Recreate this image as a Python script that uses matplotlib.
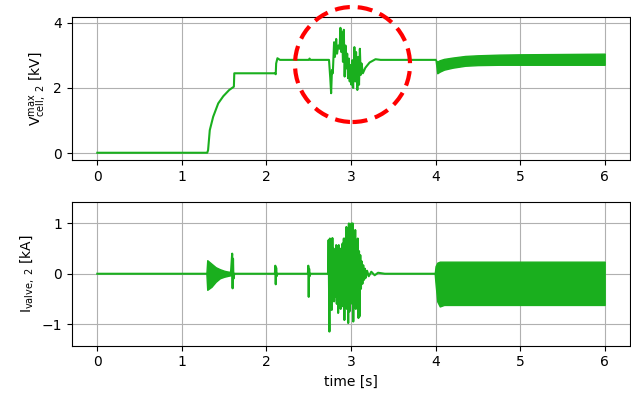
import matplotlib.pyplot as plt
from matplotlib.patches import Ellipse

plt.rcParams['mathtext.default'] = 'regular'

green = '#1aaf1e'

# upper panel: max cell voltage (kV)
v_t = [0.0, 1.30, 1.31, 1.33, 1.37, 1.43, 1.49, 1.56, 1.615, 1.62, 2.10, 2.11, 2.115,
       2.13, 2.16, 2.50, 2.51, 2.52, 2.74,
       2.755, 2.765, 2.775, 2.785, 2.80, 2.81, 2.825, 2.835, 2.85, 2.865, 2.875, 2.885,
       2.895, 2.905, 2.915, 2.925, 2.935, 2.945, 2.955, 2.965, 2.975, 2.985, 2.995,
       3.005, 3.015, 3.025, 3.04, 3.05, 3.06, 3.075, 3.085, 3.095, 3.105, 3.115, 3.125,
       3.14, 3.17, 3.22, 3.29, 3.35, 4.00]
v_max = [0.02, 0.02, 0.10, 0.71, 1.12, 1.53, 1.75, 1.94, 2.04, 2.45, 2.45, 2.42, 2.75,
         2.91, 2.86, 2.86, 2.90, 2.86, 2.86,
         2.30, 1.84, 2.55, 2.45, 3.40, 2.95, 3.50, 3.05, 3.30, 3.20, 3.84, 3.10,
         3.70, 2.80, 3.78, 2.35, 3.30, 2.60, 3.05, 2.30, 2.90, 2.20, 2.70,
         2.10, 2.85, 2.00, 3.25, 2.20, 3.10, 1.94, 2.95, 2.10, 3.20, 2.40, 2.75,
         2.45, 2.62, 2.78, 2.88, 2.86, 2.86]

# ripple band after 4 s (upper / lower envelope)
vb_t = [4.00, 4.02, 4.05, 4.10, 4.20, 4.35, 4.50, 4.75, 5.00, 6.00]
vb_hi = [2.86, 2.81, 2.85, 2.89, 2.93, 2.98, 3.00, 3.02, 3.03, 3.05]
vb_lo = [2.86, 2.45, 2.50, 2.56, 2.62, 2.68, 2.70, 2.71, 2.71, 2.71]

# lower panel: valve current (kA)
i_t = [0.0, 1.29, 1.58, 1.595, 1.60, 1.605, 1.61, 1.62, 2.10, 2.105, 2.11, 2.115, 2.12,
       2.13, 2.49, 2.495, 2.50, 2.505, 2.51, 2.52, 2.73,
       2.735, 2.745, 2.75, 2.758, 2.765, 2.772, 2.78, 2.787, 2.795, 2.80, 2.81, 2.818,
       2.825, 2.832, 2.84, 2.848, 2.855, 2.862, 2.87, 2.878, 2.885, 2.892, 2.90, 2.908,
       2.915, 2.922, 2.93, 2.937, 2.945, 2.952, 2.96, 2.967, 2.975, 2.982, 2.99, 2.997,
       3.005, 3.012, 3.02, 3.027, 3.035, 3.042, 3.05, 3.057, 3.065, 3.072, 3.08, 3.088,
       3.095, 3.10, 3.11, 3.118, 3.125, 3.135, 3.145, 3.155, 3.165, 3.175, 3.19, 3.21,
       3.24, 3.28, 3.32, 3.40, 4.00]
i_valve = [0.0, 0.0, 0.02, 0.40, -0.29, 0.30, -0.10, 0.0, 0.0, 0.16, -0.21, 0.12, -0.05,
           0.0, 0.0, 0.16, -0.46, 0.10, -0.05, 0.0, 0.0,
           0.67, -1.15, 0.70, -0.40, 0.55, -0.72, 0.71, -0.30, 0.50, -0.55, 0.45, -0.45,
           0.57, -0.60, 0.45, -0.78, 0.57, -0.40, 0.50, -0.70, 0.45, -0.50, 0.60, -0.65,
           0.70, -0.92, 0.70, -0.60, 0.93, -0.70, 0.80, -0.98, 1.00, -0.75, 0.90, -0.60,
           1.00, -0.50, 1.00, -0.95, 0.80, -0.55, 0.87, -0.70, 0.60, -0.45, 0.70, -0.88,
           0.45, -0.85, 0.37, -0.30, 0.25, -0.20, 0.17, -0.12, 0.10, -0.08, 0.06, -0.05,
           0.04, -0.03, 0.02, 0.0, 0.0]

# decaying oscillation after energisation (envelope)
ia_t = [1.29, 1.30, 1.35, 1.40, 1.45, 1.50, 1.55, 1.58]
ia_hi = [0.0, 0.27, 0.20, 0.13, 0.09, 0.06, 0.04, 0.03]
ia_lo = [0.0, -0.32, -0.26, -0.16, -0.09, -0.06, -0.04, -0.03]

# steady switching ripple after 4 s (envelope)
ib_t = [3.99, 4.00, 4.02, 4.05, 4.10, 6.00]
ib_hi = [0.0, 0.15, 0.22, 0.24, 0.24, 0.24]
ib_lo = [0.0, -0.20, -0.55, -0.65, -0.62, -0.62]

fig = plt.figure(figsize=(6.31, 3.93), dpi=100)
ax1 = fig.add_axes([0.114, 0.593, 0.8845, 0.3645])
ax2 = fig.add_axes([0.114, 0.1204, 0.8845, 0.3648])

ax1.plot(v_t, v_max, color=green, lw=1.5)
ax1.fill_between(vb_t, vb_lo, vb_hi, color=green, lw=1.0, edgecolor=green)
ax1.set_ylim(-0.2, 4.18)
ax1.set_yticks([0, 2, 4])
ax1.set_ylabel('V$_{cell,\\ 2}^{max}$ [kV]')

ax2.plot(i_t, i_valve, color=green, lw=1.5)
ax2.fill_between(ia_t, ia_lo, ia_hi, color=green, lw=1.0, edgecolor=green)
ax2.fill_between(ib_t, ib_lo, ib_hi, color=green, lw=1.0, edgecolor=green)
ax2.set_ylim(-1.43, 1.42)
ax2.set_yticks([-1, 0, 1])
ax2.set_ylabel('I$_{valve,\\ 2}$ [kA]')
ax2.set_xlabel('time [s]')

for ax in (ax1, ax2):
    ax.set_xlim(-0.3, 6.3)
    ax.set_xticks(range(7))
    ax.grid(True, color='#b0b0b0', lw=0.8)
    ax.set_axisbelow(True)

# highlight the disturbance around t = 3 s
ring = Ellipse((352.5 / 631, 1 - 64.5 / 393), 115 / 631, 115 / 393,
               transform=fig.transFigure, fill=False, edgecolor='red', lw=3,
               linestyle=(0, (3.6, 1.9)), clip_on=False)
fig.add_artist(ring)

fig.savefig('out.png', dpi=100)
